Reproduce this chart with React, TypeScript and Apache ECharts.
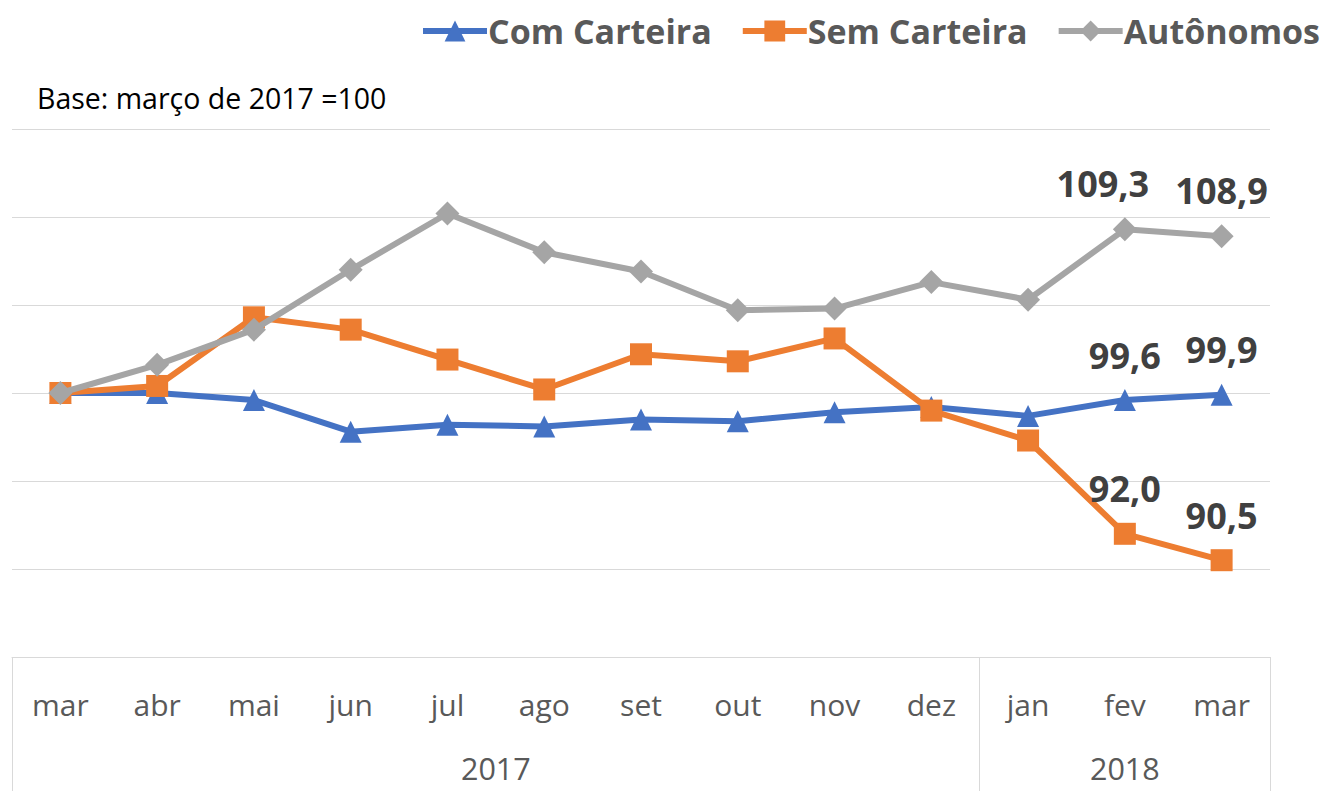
import React, { useEffect, useRef } from "react";
import * as echarts from "echarts";

const months = ["mar", "abr", "mai", "jun", "jul", "ago", "set", "out", "nov", "dez", "jan", "fev", "mar"];
const years = ["2017", "2018"];
const yearMonthCounts = [10, 3];

const comCarteira = [100, 100, 99.6, 97.8, 98.2, 98.1, 98.5, 98.4, 98.9, 99.2, 98.7, 99.6, 99.9];
const semCarteira = [100, 100.4, 104.3, 103.6, 101.9, 100.2, 102.2, 101.8, 103.1, 99.0, 97.3, 92.0, 90.5];
const autonomos = [100, 101.6, 103.6, 107.0, 110.2, 108.0, 106.9, 104.7, 104.8, 106.3, 105.3, 109.3, 108.9];

const FONT = "'Open Sans', 'Noto Sans', sans-serif";

export default function App() {
  const ref = useRef<HTMLDivElement>(null);
  useEffect(() => {
    if (!ref.current) return;
    const chart = echarts.init(ref.current, null, { renderer: "svg" });

    // year axis slots: 2*months+1 positions (boundaries + centers)
    const slots: string[] = new Array(months.length * 2 + 1).fill("");
    const boundaries: number[] = [];
    let start = 0;
    years.forEach((y, i) => {
      boundaries.push(start * 2);
      slots[start * 2 + yearMonthCounts[i]] = y;
      start += yearMonthCounts[i];
    });
    boundaries.push(start * 2);

    const labelStyle = {
      fontFamily: FONT,
      fontWeight: "bold" as const,
      fontSize: 36,
      color: "#404040",
      position: "top" as const,
      distance: 16,
      formatter: (p: any) => String(p.value.toFixed(1)).replace(".", ","),
    };
    const mk = (arr: number[], firstLabelOffset: number[] = [0, 0]) =>
      arr.map((v, i) =>
        i >= arr.length - 2
          ? {
              value: v,
              label: { show: true, ...labelStyle, offset: i === arr.length - 2 ? firstLabelOffset : [0, 0] },
            }
          : v
      );

    chart.setOption({
      animation: false,
      title: {
        text: "Base: março de 2017 =100",
        left: 32,
        top: 78,
        textStyle: { fontFamily: FONT, fontSize: 28.5, fontWeight: "normal", color: "#000" },
      },
      legend: {
        right: 2,
        top: 9,
        itemWidth: 64,
        itemHeight: 26,
        itemGap: 28,
        lineStyle: { width: 6 },
        textStyle: { fontFamily: FONT, fontSize: 34, fontWeight: "bold", color: "#595959", padding: [0, 0, 0, -4] },
        data: ["Com Carteira", "Sem Carteira", "Autônomos"],
      },
      grid: { left: 12, right: 57, top: 129, bottom: 134, containLabel: false },
      xAxis: [
        {
          type: "category",
          data: months,
          boundaryGap: true,
          axisLine: { show: true, lineStyle: { color: "#d9d9d9", width: 1 } },
          axisTick: { show: false },
          axisLabel: { interval: 0, margin: 32, fontFamily: FONT, fontSize: 30, color: "#595959" },
        },
        {
          type: "category",
          data: slots,
          boundaryGap: false,
          position: "bottom",
          axisLine: { show: false },
          axisTick: {
            show: true,
            length: 140,
            interval: (idx: number) => boundaries.includes(idx),
            lineStyle: { color: "#d9d9d9", width: 1 },
          },
          axisLabel: { interval: 0, margin: 95, fontFamily: FONT, fontSize: 30.5, color: "#595959" },
        },
      ],
      yAxis: {
        type: "value",
        min: 85,
        max: 115,
        interval: 5,
        axisLabel: { show: false },
        axisLine: { show: false },
        axisTick: { show: false },
        splitLine: { lineStyle: { color: "#d9d9d9", width: 1 } },
      },
      series: [
        {
          name: "Com Carteira",
          type: "line",
          data: mk(comCarteira),
          color: "#4472C4",
          lineStyle: { width: 6 },
          symbol: "triangle",
          symbolSize: 22,
          itemStyle: { color: "#4472C4" },
          z: 2,
        },
        {
          name: "Sem Carteira",
          type: "line",
          data: mk(semCarteira),
          color: "#ED7D31",
          lineStyle: { width: 6 },
          symbol: "rect",
          symbolSize: 22,
          itemStyle: { color: "#ED7D31" },
          z: 3,
        },
        {
          name: "Autônomos",
          type: "line",
          data: mk(autonomos, [-22, 0]),
          color: "#A5A5A5",
          lineStyle: { width: 6 },
          symbol: "diamond",
          symbolSize: 24,
          itemStyle: { color: "#A5A5A5" },
          z: 4,
        },
      ],
    });
    return () => chart.dispose();
  }, []);
  return <div ref={ref} style={{ width: 1327, height: 791, position: "absolute", left: 0, top: 0 }} />;
}
